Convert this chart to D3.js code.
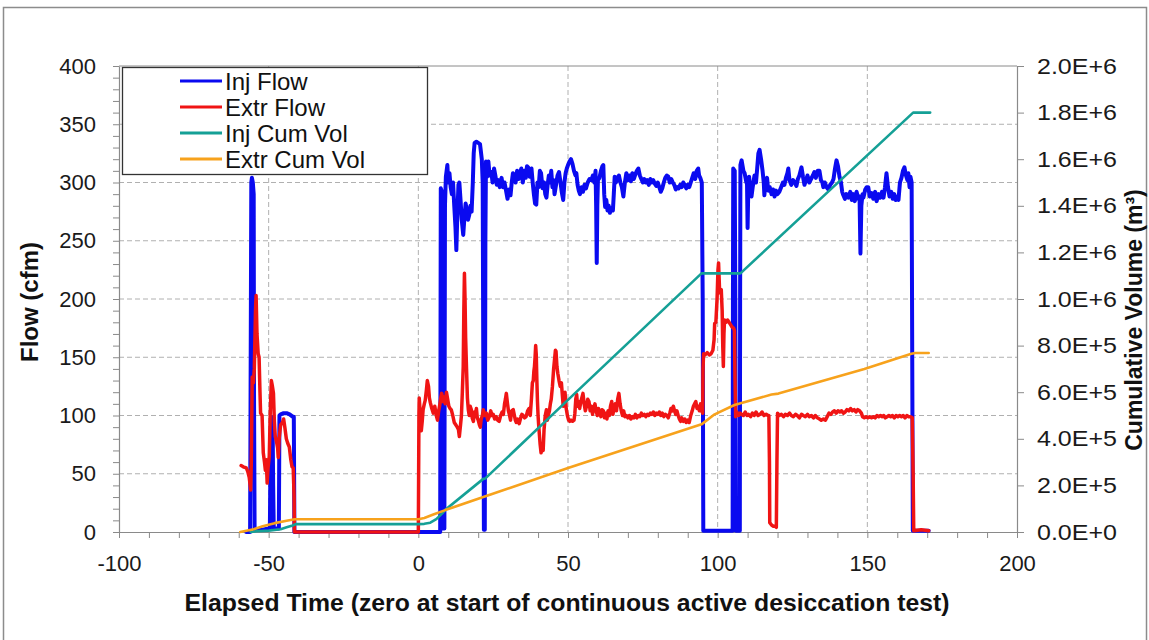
<!DOCTYPE html>
<html>
<head>
<meta charset="utf-8">
<script src="https://cdn.jsdelivr.net/npm/d3@7/dist/d3.min.js"></script>
<style>
  html, body { margin: 0; padding: 0; background: #fff; }
  svg { display: block; font-family: "Liberation Sans", Arial, sans-serif; }
</style>
</head>
<body>
<svg id="chart" width="1149" height="640"></svg>
<script>
// Axis ticks
const xTicks = [-100, -50, 0, 50, 100, 150, 200];
const yLeftTicks = [0, 50, 100, 150, 200, 250, 300, 350, 400];
const yRightTicks = [0, 2e5, 4e5, 6e5, 8e5, 1e6, 1.2e6, 1.4e6, 1.6e6, 1.8e6, 2e6];

// Series names (legend order)
const seriesNames = ["Inj Flow", "Extr Flow", "Inj Cum Vol", "Extr Cum Vol"];

// Injection flow, cfm: [elapsed time, flow]
const injFlow = [
  [-57.5,0],[-56.2,0],[-56.0,150],[-55.8,300],[-55.6,304],[-55.3,300],[-55.0,290],[-54.9,120],[-54.7,2],[-52,2],[-50,3],
  [-49.6,3],[-49.4,60],[-49.2,99],[-48.7,98],[-48.5,40],[-48.3,3],[-46.6,3],[-46.4,100],[-46.0,101],[-45,102],[-44,102],
  [-43,101],[-42,99],[-41.6,99],[-41.4,0],[7.3,0],[7.5,295],[7.9,292],[8.1,150],[8.3,3],[8.7,3],[8.9,280],[9.2,305],
  [9.7,315],[10.0,300],[10.4,308],[10.8,296],[11.2,290],[11.6,300],[12.0,280],[12.4,262],[12.7,242],[13.0,270],[13.4,298],
  [13.7,300],[14.1,285],[14.5,268],[15.0,255],[15.4,270],[15.8,282],[16.2,276],[16.6,268],[17.0,272],[17.4,280],[17.8,275],
  [18.2,300],[18.5,325],[18.8,334],[19.4,335],[20.0,334],[20.6,333],[21.2,320],[21.5,300],[21.7,150],[21.9,2],[22.2,2],
  [22.4,250],[22.6,318],[23.0,305],[23.4,318],[23.8,306],[24.4,309],[24.8,300],[25.3,312],[25.8,305],[26.2,298],[26.7,302],
  [27.2,296],[27.8,304],[28.3,296],[28.8,300],[29.3,293],[29.8,286],[30.3,294],[30.8,289],[31.2,300],[31.6,308],[32.0,306],
  [32.5,300],[33.0,310],[33.5,303],[34.0,308],[34.4,312],[34.9,300],[35.4,310],[35.9,304],[36.3,314],[36.7,313],[37.2,305],
  [37.8,312],[38.2,300],[38.6,290],[39.0,282],[39.4,281],[39.8,300],[40.2,296],[40.6,310],[41.0,308],[41.5,295],[42.0,300],
  [42.4,290],[42.8,287],[43.2,298],[43.6,306],[44.0,300],[44.4,310],[44.8,296],[45.2,302],[45.5,290],[46.0,298],[46.5,306],
  [47.0,309],[47.5,300],[47.9,292],[48.4,285],[48.8,300],[49.2,308],[49.6,312],[50.0,315],[50.5,318],[51.0,320],[51.5,316],
  [52.0,310],[52.5,306],[52.8,308],[53.2,298],[53.6,293],[54.0,290],[54.5,296],[55.0,292],[55.5,298],[56.0,295],[56.6,300],
  [57.2,303],[57.8,302],[58.3,306],[58.8,300],[59.2,310],[59.4,280],[59.6,231],[59.8,280],[60.0,302],[60.5,304],[61.0,310],
  [61.5,314],[61.8,315],[62.1,290],[62.4,279],[62.8,285],[63.2,276],[63.6,280],[64.0,274],[64.5,278],[65.0,276],[65.3,290],
  [65.6,305],[66.0,300],[66.5,304],[67.0,306],[67.5,300],[68.0,296],[68.5,288],[69.0,300],[69.5,308],[70.0,302],[70.5,306],
  [71.0,301],[71.5,308],[72.0,303],[72.5,307],[73.0,310],[73.5,312],[74.0,306],[74.5,303],[75.0,300],[75.5,303],[76.0,300],
  [76.5,302],[77.0,298],[77.5,303],[78.0,300],[78.5,302],[79.0,299],[79.5,297],[80.0,300],[80.5,296],[81.0,292],[81.5,295],
  [82.0,300],[82.5,304],[83.0,306],[83.5,305],[84.0,300],[84.5,303],[85.0,300],[85.5,298],[86.0,294],[86.5,296],[87.0,295],
  [87.5,298],[88.0,296],[88.5,300],[89.0,298],[89.5,295],[90.0,298],[90.5,296],[91.0,300],[91.5,304],[92.0,308],[92.5,303],
  [93.0,310],[93.5,312],[93.8,306],[94.2,304],[94.7,300],[95.0,200],[95.2,1],[105.0,1],[105.1,200],[105.2,312],[105.7,310],
  [105.9,200],[106.1,1],[107.4,1],[107.5,200],[107.6,315],[108.0,319],[108.6,310],[109.0,308],[109.6,300],[109.8,300],
  [110.0,261],[110.2,290],[110.5,305],[111.0,292],[111.3,288],[111.7,296],[112.3,306],[112.8,300],[113.2,312],[113.6,325],
  [114.0,328],[114.5,320],[115.0,310],[115.4,300],[115.6,289],[116.0,300],[116.5,304],[116.9,293],[117.4,296],[118.0,290],
  [118.5,294],[119.0,288],[119.5,293],[120.0,290],[120.6,292],[121.2,296],[121.8,300],[122.3,298],[122.8,304],[123.3,308],
  [123.6,312],[124.0,302],[124.6,298],[125.2,302],[125.8,300],[126.3,297],[126.8,303],[127.3,306],[128.0,313],[128.5,305],
  [129.0,298],[129.5,302],[130.0,306],[130.6,300],[131.2,303],[131.8,306],[132.3,309],[132.8,304],[133.4,310],[134.0,310],
  [134.5,302],[135.0,300],[135.3,296],[135.8,300],[136.4,296],[137.0,294],[137.6,298],[138.2,300],[138.7,303],[139.2,312],
  [139.7,319],[140.2,314],[140.7,305],[141.2,300],[141.6,292],[142.0,289],[142.5,286],[143.0,290],[143.7,287],[144.3,292],
  [144.8,285],[145.3,290],[145.8,284],[146.4,292],[147.0,286],[147.4,288],[147.7,239],[148.0,280],[148.4,290],[148.7,287],
  [149.3,294],[149.8,296],[150.3,296],[150.8,288],[151.4,291],[152.0,286],[152.6,292],[153.1,284],[153.7,290],[154.3,287],
  [154.9,292],[155.4,287],[155.9,296],[156.4,308],[156.9,296],[157.4,288],[158.0,292],[158.5,286],[159.0,290],[159.5,285],
  [160.0,288],[160.4,285],[160.9,300],[161.4,304],[161.9,310],[162.4,313],[162.9,306],[163.4,302],[163.7,308],[164.1,296],
  [164.4,305],[164.8,300],[165.0,150],[165.2,1],[170.5,1]
];

// Extraction flow, cfm: [elapsed time, flow]
const extrFlow = [
  [-59.2,57],[-58.5,56],[-57.5,55],[-57.0,52],[-56.5,47],[-56.0,36],[-55.8,60],[-55.5,133],[-55.1,128],[-54.8,140],
  [-54.4,190],[-54.2,203],[-53.9,170],[-53.5,153],[-53.2,150],[-52.9,120],[-52.7,102],[-52.2,100],[-51.8,68],[-51.4,60],
  [-51.1,53],[-50.8,62],[-50.5,42],[-50.2,55],[-49.8,65],[-49.5,100],[-49.1,130],[-48.8,126],[-48.4,119],[-48.1,95],
  [-47.8,82],[-47.4,78],[-47.0,72],[-46.8,64],[-46.5,80],[-46.0,92],[-45.4,94],[-45.0,97],[-44.6,90],[-44.1,80],[-43.6,76],
  [-43.1,73],[-42.6,62],[-42.2,56],[-41.8,55],[-41.5,30],[-41.4,0],[0.0,0],[0.2,100],[0.3,115],[0.7,100],[1.0,87],[1.3,95],
  [1.6,105],[2.0,110],[2.3,113],[2.7,122],[3.0,130],[3.4,125],[3.7,115],[4.0,111],[4.5,106],[5.0,102],[5.5,108],[6.0,100],
  [6.4,96],[6.8,104],[7.1,108],[7.5,115],[7.8,119],[8.2,112],[8.6,116],[9.0,110],[9.4,120],[9.8,114],[10.2,108],[10.6,106],
  [11.0,105],[11.5,100],[12.0,94],[12.5,92],[13.0,90],[13.4,88],[13.7,82],[14.1,92],[14.4,100],[14.7,120],[15.0,142],
  [15.2,190],[15.4,222],[15.6,200],[15.8,167],[16.1,140],[16.4,115],[16.7,105],[17.0,100],[17.3,108],[17.7,105],[18.0,98],
  [18.4,95],[18.7,103],[19.0,100],[19.4,106],[19.7,98],[20.0,96],[20.4,92],[20.7,90],[21.0,97],[21.4,100],[21.7,105],
  [22.1,100],[22.7,102],[23.2,96],[23.7,99],[24.2,104],[24.6,100],[25.0,101],[25.5,97],[26.0,99],[26.5,96],[27.0,95],
  [27.5,100],[28.0,103],[28.4,101],[28.8,110],[29.1,114],[29.4,119],[29.8,110],[30.1,104],[30.4,101],[30.8,96],[31.2,104],
  [31.7,105],[32.1,100],[32.4,96],[32.7,94],[33.2,97],[33.7,93],[34.2,98],[34.6,101],[35.0,100],[35.5,98],[36.0,99],
  [36.5,104],[37.0,106],[37.4,100],[37.8,115],[38.1,128],[38.4,130],[38.6,138],[38.8,142],[39.0,150],[39.2,160],[39.4,152],
  [39.6,130],[39.8,112],[40.0,100],[40.2,92],[40.4,85],[40.7,75],[41.0,68],[41.4,72],[41.7,70],[42.0,88],[42.4,100],
  [42.8,105],[43.1,96],[43.4,100],[43.8,104],[44.1,110],[44.4,114],[44.8,125],[45.2,140],[45.5,148],[45.8,156],[46.0,155],
  [46.3,142],[46.6,136],[47.0,130],[47.4,125],[47.8,128],[48.1,118],[48.4,108],[48.7,112],[49.0,120],[49.4,106],[49.8,100],
  [50.2,96],[50.6,95],[51.0,96],[51.5,95],[52.0,96],[52.3,102],[52.6,114],[52.9,118],[53.2,108],[53.5,112],[53.9,106],
  [54.3,112],[54.7,116],[55.0,119],[55.4,110],[55.8,104],[56.2,108],[56.6,114],[57.0,112],[57.4,104],[57.8,108],[58.2,101],
  [58.6,106],[59.0,110],[59.4,104],[59.8,100],[60.2,106],[60.6,102],[61.0,99],[61.4,105],[61.8,104],[62.2,98],[62.6,102],
  [63.0,97],[63.4,104],[63.8,100],[64.2,108],[64.6,112],[65.0,101],[65.4,106],[65.8,110],[66.2,104],[66.6,114],[67.0,119],
  [67.4,110],[67.8,104],[68.2,100],[68.6,104],[69.0,99],[69.5,100],[70.0,98],[70.5,100],[71.0,97],[71.5,99],[72.0,98],
  [72.5,101],[73.0,98],[73.5,100],[74.0,99],[74.5,102],[75.0,100],[75.5,101],[76.0,99],[76.5,101],[77.0,100],[77.5,102],
  [78.0,101],[78.5,103],[79.0,100],[79.5,102],[80.0,101],[80.5,103],[81.0,100],[81.5,102],[82.0,99],[82.5,101],[83.0,100],
  [83.5,98],[84.0,102],[84.4,106],[84.8,104],[85.2,108],[85.6,104],[86.0,101],[86.4,104],[86.8,100],[87.2,97],[87.6,95],
  [88.0,98],[88.5,95],[89.0,97],[89.5,94],[90.0,96],[90.5,94],[91.0,100],[91.5,104],[91.9,108],[92.3,110],[92.7,112],
  [93.1,106],[93.5,108],[93.9,104],[94.3,110],[94.7,104],[95.0,102],[95.1,140],[95.3,153],[95.8,152],[96.5,154],[97.2,152],
  [97.8,153],[98.4,156],[98.8,165],[99.0,179],[99.4,180],[99.8,200],[100.1,225],[100.3,231],[100.6,210],[100.9,205],
  [101.2,208],[101.5,190],[101.7,160],[101.9,142],[102.1,170],[102.3,182],[102.8,180],[103.3,182],[103.8,180],[104.3,178],
  [104.8,176],[105.3,175],[105.6,173],[105.8,130],[106.0,99],[106.4,103],[107.0,100],[107.5,102],[108.0,101],[108.6,100],
  [109.2,103],[109.8,100],[110.3,101],[111.0,99],[111.6,102],[112.2,100],[112.8,103],[113.5,100],[114.2,101],[114.8,103],
  [115.5,100],[116.2,101],[116.8,100],[117.1,100],[117.3,60],[117.4,8],[118.0,6],[118.6,5],[119.2,5],[119.6,4],[119.8,60],
  [120.0,102],[120.6,100],[121.3,101],[122.0,99],[122.6,101],[123.3,100],[124.0,102],[124.6,100],[125.3,99],[126.0,101],
  [126.6,100],[127.3,98],[128.0,101],[128.6,100],[129.3,99],[130.0,101],[130.6,99],[131.3,100],[132.0,98],[132.6,100],
  [133.3,98],[134.0,97],[134.6,96],[135.3,97],[136.0,96],[136.6,99],[137.2,102],[137.8,101],[138.4,103],[139.0,104],
  [139.6,102],[140.2,104],[140.8,103],[141.4,104],[142.0,102],[142.6,103],[143.2,105],[143.8,104],[144.4,106],[145.0,104],
  [145.6,105],[146.2,103],[146.8,105],[147.4,104],[148.0,102],[148.4,99],[149.0,98],[149.6,99],[150.2,98],[150.8,99],
  [151.4,98],[152.0,99],[152.6,98],[153.2,100],[153.8,99],[154.4,100],[155.0,99],[155.5,100],[156.0,98],[156.6,99],
  [157.2,100],[157.8,99],[158.4,100],[159.0,98],[159.6,100],[160.2,99],[160.8,100],[161.4,99],[162.0,100],[162.6,98],
  [163.2,100],[163.8,99],[164.4,99],[165.0,98],[165.3,50],[165.5,1],[168.0,2],[170.5,1]
];

// Cumulative injected volume, m3: [elapsed time, volume]
const injCumVol = [
  [-56,0],[-54,3000],[-50,6000],[-46,12000],[-44,20000],[-42,28000],[-41,34000],[0,34000],[2,35000],[4,40000],[6,55000],
  [8,80000],[9,95000],[21.7,228000],[22.4,230000],[50,567000],[94.6,1110000],[107.6,1110000],[165.3,1800000],[171,1800000]
];

// Cumulative extracted volume, m3: [elapsed time, volume]
const extrCumVol = [
  [-59.5,0],[-55,12000],[-52,25000],[-48,38000],[-44,48000],[-41.3,55000],[0,55000],[2,60000],[5,75000],[9,94000],
  [21.7,150000],[50,275000],[94.6,462000],[99,505000],[105.6,545000],[118,590000],[120.3,594000],[149,700000],
  [164.7,765000],[166,768000],[170.5,768000]
];

const colors = ["#0a0af0", "#f01414", "#15a096", "#f7a21c"];

const svg = d3.select("#chart");
const W = 1149, H = 640;
const plot = { left: 119, right: 1017, top: 66, bottom: 532 };

// Outer frame of the chart area
svg.append("rect")
  .attr("x", 3.5).attr("y", 7.5)
  .attr("width", W - 6).attr("height", H)
  .attr("fill", "#fff").attr("stroke", "#8c8c8c").attr("stroke-width", 1.5);

const x = d3.scaleLinear().domain([-100, 200]).range([plot.left, plot.right]);
const yL = d3.scaleLinear().domain([0, 400]).range([plot.bottom, plot.top]);
const yR = d3.scaleLinear().domain([0, 2e6]).range([plot.bottom, plot.top]);

const gridColor = "#b0b0b0";
const axisColor = "#8a8a8a";

// Dashed gridlines
const grid = svg.append("g");
grid.selectAll("line.h")
  .data(yLeftTicks.filter(v => v > 0 && v < 400))
  .join("line")
  .attr("x1", plot.left).attr("x2", plot.right)
  .attr("y1", d => yL(d)).attr("y2", d => yL(d))
  .attr("stroke", gridColor).attr("stroke-width", 1).attr("stroke-dasharray", "5,3");
grid.selectAll("line.v")
  .data(xTicks.filter(v => v > -100 && v < 200))
  .join("line")
  .attr("y1", plot.top).attr("y2", plot.bottom)
  .attr("x1", d => x(d)).attr("x2", d => x(d))
  .attr("stroke", gridColor).attr("stroke-width", 1).attr("stroke-dasharray", "5,3");

// Plot frame top edge
svg.append("line")
  .attr("x1", plot.left).attr("x2", plot.right)
  .attr("y1", plot.top).attr("y2", plot.top)
  .attr("stroke", axisColor).attr("stroke-width", 1);

// Axes
function styleAxis(g) {
  g.selectAll("path.domain").attr("stroke", axisColor).attr("stroke-width", 1.2);
  g.selectAll(".tick line").attr("stroke", axisColor);
  g.selectAll(".tick text").attr("fill", "#1a1a1a").attr("font-size", 22)
    .attr("font-family", "'Liberation Sans', Arial, sans-serif");
}

// x axis: minor ticks every 10, labels every 50
const xMinor = d3.range(-100, 201, 10);
const gx = svg.append("g").attr("transform", `translate(0,${plot.bottom})`)
  .call(d3.axisBottom(x).tickValues(xMinor).tickSizeInner(6).tickSizeOuter(0).tickPadding(17)
    .tickFormat(d => xTicks.includes(d) ? String(d) : ""));
styleAxis(gx);

// Left axis: minor ticks every 10, labels every 50
const yMinor = d3.range(0, 401, 10);
const gyl = svg.append("g").attr("transform", `translate(${plot.left},0)`)
  .call(d3.axisLeft(yL).tickValues(yMinor).tickSizeInner(6).tickSizeOuter(0).tickPadding(17)
    .tickFormat(d => yLeftTicks.includes(d) ? String(d) : ""));
styleAxis(gyl);

// Right axis: cumulative volume
const sciFmt = d3.format(".1e");
const gyr = svg.append("g").attr("transform", `translate(${plot.right},0)`)
  .call(d3.axisRight(yR).tickValues(yRightTicks).tickSizeInner(7).tickSizeOuter(0).tickPadding(13)
    .tickFormat(d => sciFmt(d).toUpperCase()));
styleAxis(gyr);
gyr.selectAll(".tick text").attr("textLength", 80).attr("lengthAdjust", "spacingAndGlyphs");

// Series lines
const lineL = d3.line().x(d => x(d[0])).y(d => yL(d[1]));
const lineR = d3.line().x(d => x(d[0])).y(d => yR(d[1]));

const lines = svg.append("g").attr("fill", "none")
  .attr("stroke-linejoin", "round").attr("stroke-linecap", "round");
lines.append("path").datum(injFlow).attr("d", lineL)
  .attr("stroke", colors[0]).attr("stroke-width", 4);
lines.append("path").datum(extrFlow).attr("d", lineL)
  .attr("stroke", colors[1]).attr("stroke-width", 3.5);
lines.append("path").datum(injCumVol).attr("d", lineR)
  .attr("stroke", colors[2]).attr("stroke-width", 2.6);
lines.append("path").datum(extrCumVol).attr("d", lineR)
  .attr("stroke", colors[3]).attr("stroke-width", 2.6);

// Legend
const legend = svg.append("g");
legend.append("rect")
  .attr("x", 122.5).attr("y", 67.5).attr("width", 305).attr("height", 107)
  .attr("fill", "#fff").attr("stroke", "#333").attr("stroke-width", 1.3);
seriesNames.forEach((name, i) => {
  const cy = 81 + i * 26;
  legend.append("line")
    .attr("x1", 180).attr("x2", 222).attr("y1", cy).attr("y2", cy)
    .attr("stroke", colors[i]).attr("stroke-width", 3);
  legend.append("text")
    .attr("x", 225).attr("y", cy).attr("dy", "0.36em")
    .attr("font-size", 24).attr("fill", "#111")
    .text(name);
});

// Axis titles
svg.append("text")
  .attr("x", 567).attr("y", 611)
  .attr("text-anchor", "middle").attr("font-size", 24).attr("font-weight", "bold").attr("fill", "#111")
  .attr("textLength", 765).attr("lengthAdjust", "spacingAndGlyphs")
  .text("Elapsed Time (zero at start of continuous active desiccation test)");

svg.append("text")
  .attr("transform", `translate(38,${(plot.top + plot.bottom) / 2 + 3}) rotate(-90)`)
  .attr("text-anchor", "middle").attr("font-size", 24).attr("font-weight", "bold").attr("fill", "#111")
  .text("Flow (cfm)");

svg.append("text")
  .attr("transform", `translate(1142,${(plot.top + plot.bottom) / 2 + 21}) rotate(-90)`)
  .attr("text-anchor", "middle").attr("font-size", 23).attr("font-weight", "bold").attr("fill", "#111")
  .text("Cumulative Volume (m³)");
</script>
</body>
</html>
